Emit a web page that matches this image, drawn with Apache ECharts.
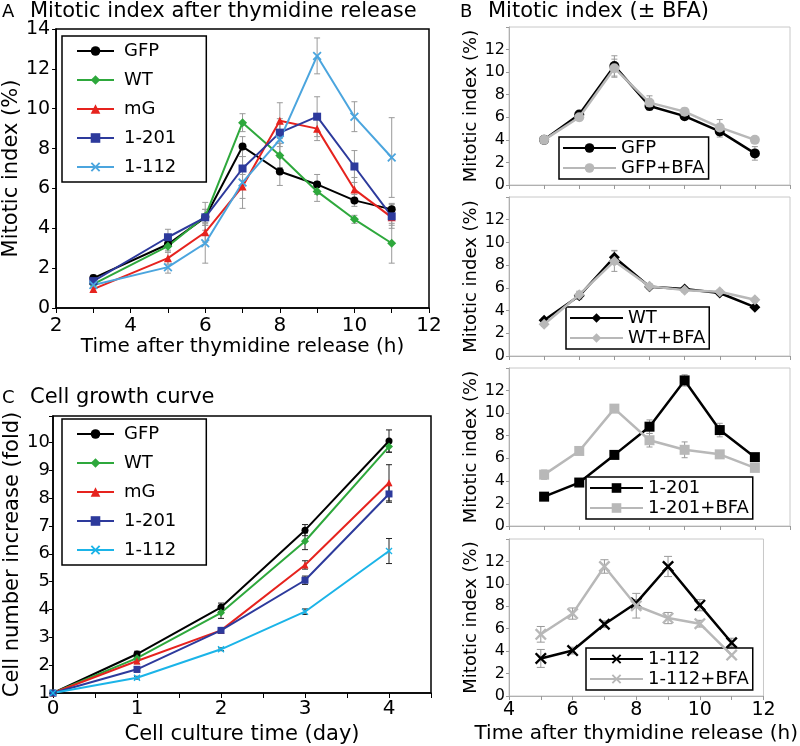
<!DOCTYPE html>
<html><head><meta charset="utf-8">
<script src="https://cdn.jsdelivr.net/npm/echarts@6/dist/echarts.min.js"></script>
<style>html,body{margin:0;padding:0;background:#fff}#c{width:800px;height:746px}</style>
</head><body><div id="c"></div>
<script>
// ---------- Panel A data ----------
const A_x = [3, 5, 6, 7, 8, 9, 10, 11];
const A_GFP = [1.5, 3.2, 4.55, 8.1, 6.85, 6.2, 5.4, 4.95];
const A_WT = [1.2, 3.1, 4.6, 9.3, 7.65, 5.85, 4.45, 3.25];
const A_mG = [0.95, 2.5, 3.8, 6.1, 9.4, 9.0, 5.95, 4.55];
const A_201 = [1.35, 3.55, 4.55, 7.0, 8.8, 9.6, 7.1, 4.6];
const A_112 = [1.15, 2.05, 3.25, 6.3, 8.45, 12.65, 9.6, 7.55];
const A_GFP_err = [0.15, 0.3, 0.4, 0.5, 0.7, 0.5, 0.3, 0.3];
const A_WT_err = [0.15, 0.3, 0.7, 0.45, 0.6, 0.5, 0.2, 1.0];
const A_mG_err = [0.15, 0.3, 0.5, 0.6, 0.9, 0.6, 0.6, 0.4];
const A_201_err = [0.2, 0.4, 0.4, 0.6, 0.7, 1.0, 0.8, 0.6];
const A_112_err = [0.15, 0.3, 1.0, 1.3, 0.8, 0.9, 0.75, 2.0];

// ---------- Panel C data ----------
const C_x = [0, 1, 2, 3, 4];
const C_GFP = [1, 2.4, 4.08, 6.85, 10.05];
const C_WT = [1, 2.25, 3.88, 6.45, 9.85];
const C_mG = [1, 2.15, 3.25, 5.6, 8.55];
const C_201 = [1, 1.85, 3.25, 5.05, 8.15];
const C_112 = [1, 1.55, 2.57, 3.92, 6.1];
const C_GFP_err = [0, 0.1, 0.15, 0.2, 0.4];
const C_WT_err = [0, 0.1, 0.2, 0.3, 0.2];
const C_mG_err = [0, 0.1, 0.1, 0.15, 0.65];
const C_201_err = [0, 0.1, 0.1, 0.15, 0.3];
const C_112_err = [0, 0.05, 0.05, 0.1, 0.45];

// ---------- Panel B data ----------
const B_x = [5, 6, 7, 8, 9, 10, 11];
const B_GFP = [4.0, 6.25, 10.55, 7.0, 6.1, 4.75, 2.8];
const B_GFP_BFA = [4.0, 6.0, 10.35, 7.3, 6.5, 5.1, 4.0];
const B_WT = [3.15, 5.3, 8.7, 6.1, 5.9, 5.55, 4.3];
const B_WT_BFA = [2.8, 5.4, 8.35, 6.15, 5.8, 5.65, 4.95];
const B_201 = [2.6, 3.85, 6.3, 8.8, 12.9, 8.5, 6.1];
const B_201_BFA = [4.55, 6.65, 10.4, 7.6, 6.75, 6.35, 5.15];
const B_112 = [3.35, 4.05, 6.4, 8.3, 11.55, 8.1, 4.75];
const B_112_BFA = [5.5, 7.35, 11.55, 8.05, 6.95, 6.45, 3.65];
const B_GFP_err = [0.2, 0.3, 0.9, 0.4, 0.3, 0.5, 0.6];
const B_GFP_BFA_err = [0.2, 0.3, 0.8, 0.6, 0.3, 0.7, 0.3];
const B_WT_err = [0.2, 0.3, 0.6, 0.2, 0.2, 0.2, 0.2];
const B_WT_BFA_err = [0.2, 0.3, 0.9, 0.2, 0.2, 0.2, 0.2];
const B_201_err = [0.2, 0.2, 0.3, 0.6, 0.5, 0.6, 0.3];
const B_201_BFA_err = [0.4, 0.3, 0.3, 0.6, 0.7, 0.3, 0.3];
const B_112_err = [0.8, 0.3, 0.3, 0.3, 0.9, 0.5, 0.4];
const B_112_BFA_err = [0.7, 0.5, 0.6, 1.1, 0.5, 0.3, 0.8];

// tick labels
const A_xTicks = [2, 4, 6, 8, 10, 12];
const A_yTicks = [0, 2, 4, 6, 8, 10, 12, 14];
const C_xTicks = [0, 1, 2, 3, 4];
const C_yTicks = [1, 2, 3, 4, 5, 6, 7, 8, 9, 10];
const B_xTicks = [4, 6, 8, 10, 12];
const B_yTicks = [0, 2, 4, 6, 8, 10, 12];

const FONT = 'DejaVu Sans';
const XSYM = 'path://M0,1.4 L1.4,0 L5,3.6 L8.6,0 L10,1.4 L6.4,5 L10,8.6 L8.6,10 L5,6.4 L1.4,10 L0,8.6 L3.6,5 Z';
const COL = {GFP: '#000000', WT: '#2ea83c', mG: '#e6231e', b201: '#2d3a9c', b112: '#4ba5de', c112: '#1bb4e8', gray: '#a9a9a9', grayS: '#b8b8b8'};

function zip(xs, ys) { return xs.map((x, i) => [x, ys[i]]); }
function errSeries(xs, ys, es, gi, color, cap) {
  return {
    type: 'custom', xAxisIndex: gi, yAxisIndex: gi, silent: true, z: 1,
    data: xs.map((x, i) => [x, ys[i] - es[i], ys[i] + es[i]]),
    encode: {x: 0, y: [1, 2]},
    renderItem: function (params, api) {
      const lo = api.coord([api.value(0), api.value(1)]);
      const hi = api.coord([api.value(0), api.value(2)]);
      const st = {stroke: color, lineWidth: 1};
      return {type: 'group', children: [
        {type: 'line', shape: {x1: lo[0], y1: lo[1], x2: hi[0], y2: hi[1]}, style: st},
        {type: 'line', shape: {x1: lo[0] - cap, y1: lo[1], x2: lo[0] + cap, y2: lo[1]}, style: st},
        {type: 'line', shape: {x1: hi[0] - cap, y1: hi[1], x2: hi[0] + cap, y2: hi[1]}, style: st}
      ]};
    }
  };
}
function lineSeries(name, xs, ys, gi, color, symbol, size, width, z) {
  return {
    name: name, type: 'line', xAxisIndex: gi, yAxisIndex: gi, data: zip(xs, ys),
    symbol: symbol, symbolSize: size, showSymbol: true, z: z || 3,
    itemStyle: {color: color, borderWidth: 0},
    lineStyle: {color: color, width: width},
    emphasis: {disabled: true}, animation: false
  };
}

const grids = [
  {left: 53, top: 29, width: 376, height: 279, show: true, borderColor: '#000', borderWidth: 1.5},
  {left: 53, top: 416, width: 378, height: 280, show: true, borderColor: '#000', borderWidth: 1.5},
  {left: 509, top: 27, width: 281, height: 158, show: true, borderColor: '#c8c8c8', borderWidth: 1},
  {left: 509, top: 197, width: 281, height: 159, show: true, borderColor: '#c8c8c8', borderWidth: 1},
  {left: 509, top: 368, width: 281, height: 158, show: true, borderColor: '#c8c8c8', borderWidth: 1},
  {left: 509, top: 539, width: 281, height: 157, show: true, borderColor: '#c8c8c8', borderWidth: 1}
];

const blackAxis = {lineStyle: {color: '#000', width: 1.5}};
const xAxes = [
  {gridIndex: 0, type: 'value', min: 2, max: 12, interval: 1, axisLine: blackAxis,
   axisTick: {lineStyle: {color: '#000'}, length: 5}, splitLine: {show: false},
   axisLabel: {fontFamily: FONT, fontSize: 20, color: '#000', margin: 8, formatter: v => A_xTicks.includes(v) ? String(v) : ''},
   name: 'Time after thymidine release (h)', nameLocation: 'middle', nameGap: 29,
   nameTextStyle: {fontFamily: FONT, fontSize: 20, color: '#000'}},
  {gridIndex: 1, type: 'value', min: 0, max: 4.5, interval: 0.5, axisLine: blackAxis,
   axisTick: {lineStyle: {color: '#000'}, length: 5}, splitLine: {show: false},
   axisLabel: {fontFamily: FONT, fontSize: 20, color: '#000', margin: 6, formatter: v => C_xTicks.includes(v) ? String(v) : ''},
   name: 'Cell culture time (day)', nameLocation: 'middle', nameGap: 31,
   nameTextStyle: {fontFamily: FONT, fontSize: 21, color: '#000'}}
];
const yAxes = [
  {gridIndex: 0, type: 'value', min: 0, max: 14, interval: 2, axisLine: blackAxis,
   axisTick: {lineStyle: {color: '#000'}, length: 4}, splitLine: {show: false},
   axisLabel: {fontFamily: FONT, fontSize: 19, color: '#000', margin: 6, formatter: v => A_yTicks.includes(v) ? String(v) : ''},
   name: 'Mitotic index (%)', nameLocation: 'middle', nameGap: 28,
   nameTextStyle: {fontFamily: FONT, fontSize: 21, color: '#000'}},
  {gridIndex: 1, type: 'value', min: 1, max: 10.95, interval: 1, axisLine: blackAxis,
   axisTick: {lineStyle: {color: '#000'}, length: 4}, splitLine: {show: false},
   axisLabel: {fontFamily: FONT, fontSize: 18, color: '#000', margin: 3, formatter: v => C_yTicks.includes(v) ? String(v) : ''},
   name: 'Cell number increase (fold)', nameLocation: 'middle', nameGap: 26,
   nameTextStyle: {fontFamily: FONT, fontSize: 21, color: '#000'}}
];
for (let g = 2; g <= 5; g++) {
  const last = g === 5;
  xAxes.push({gridIndex: g, type: 'value', min: 4, max: 12, interval: 1,
    axisLine: {lineStyle: {color: '#b0b0b0', width: 1}},
    axisTick: {lineStyle: {color: '#999'}, length: 4}, splitLine: {show: false},
    axisLabel: {show: last, fontFamily: FONT, fontSize: 19, color: '#000', margin: 5, formatter: v => B_xTicks.includes(v) ? String(v) : ''},
    name: last ? 'Time after thymidine release (h)' : '', nameLocation: 'middle', nameGap: 28,
    nameTextStyle: {fontFamily: FONT, fontSize: 20, color: '#000'}});
  yAxes.push({gridIndex: g, type: 'value', min: 0, max: 14, interval: 2,
    axisLine: {lineStyle: {color: '#b0b0b0', width: 1}},
    axisTick: {lineStyle: {color: '#999'}, length: 3}, splitLine: {show: false},
    axisLabel: {fontFamily: FONT, fontSize: 16, color: '#000', margin: 4, formatter: v => B_yTicks.includes(v) ? String(v) : ''},
    name: 'Mitotic index (%)', nameLocation: 'middle', nameGap: 22,
    nameTextStyle: {fontFamily: FONT, fontSize: 18, color: '#000'}});
}

const eA = '#9a9a9a', eC = '#222', eB = '#999';
const series = [
  // A
  errSeries(A_x, A_GFP, A_GFP_err, 0, eA, 3),
  errSeries(A_x, A_WT, A_WT_err, 0, eA, 3),
  errSeries(A_x, A_mG, A_mG_err, 0, eA, 3),
  errSeries(A_x, A_201, A_201_err, 0, eA, 3),
  errSeries(A_x, A_112, A_112_err, 0, eA, 3),
  lineSeries('GFP', A_x, A_GFP, 0, COL.GFP, 'circle', 8, 2),
  lineSeries('WT', A_x, A_WT, 0, COL.WT, 'diamond', 9, 2),
  lineSeries('mG', A_x, A_mG, 0, COL.mG, 'triangle', 8, 2),
  lineSeries('1-201', A_x, A_201, 0, COL.b201, 'rect', 8, 2),
  lineSeries('1-112', A_x, A_112, 0, COL.b112, XSYM, 9, 2),
  // C
  errSeries(C_x, C_GFP, C_GFP_err, 1, eC, 3),
  errSeries(C_x, C_WT, C_WT_err, 1, eC, 3),
  errSeries(C_x, C_mG, C_mG_err, 1, eC, 3),
  errSeries(C_x, C_201, C_201_err, 1, eC, 3),
  errSeries(C_x, C_112, C_112_err, 1, eC, 3),
  lineSeries('C:GFP', C_x, C_GFP, 1, COL.GFP, 'circle', 7, 2),
  lineSeries('C:WT', C_x, C_WT, 1, COL.WT, 'diamond', 8, 2),
  lineSeries('C:mG', C_x, C_mG, 1, COL.mG, 'triangle', 7, 2),
  lineSeries('C:1-201', C_x, C_201, 1, COL.b201, 'rect', 7, 2),
  lineSeries('C:1-112', C_x, C_112, 1, COL.c112, XSYM, 7, 2),
  // B1
  errSeries(B_x, B_GFP, B_GFP_err, 2, eB, 3),
  errSeries(B_x, B_GFP_BFA, B_GFP_BFA_err, 2, eB, 3),
  lineSeries('B:GFP', B_x, B_GFP, 2, COL.GFP, 'circle', 10, 2.5),
  lineSeries('B:GFP+BFA', B_x, B_GFP_BFA, 2, COL.grayS, 'circle', 10, 2.5, 4),
  // B2
  errSeries(B_x, B_WT, B_WT_err, 3, eB, 3),
  errSeries(B_x, B_WT_BFA, B_WT_BFA_err, 3, eB, 3),
  lineSeries('B:WT', B_x, B_WT, 3, COL.GFP, 'diamond', 11, 2.5),
  lineSeries('B:WT+BFA', B_x, B_WT_BFA, 3, COL.grayS, 'diamond', 11, 2.5, 4),
  // B3
  errSeries(B_x, B_201, B_201_err, 4, eB, 3),
  errSeries(B_x, B_201_BFA, B_201_BFA_err, 4, eB, 3),
  lineSeries('B:1-201', B_x, B_201, 4, COL.GFP, 'rect', 10, 2.5),
  lineSeries('B:1-201+BFA', B_x, B_201_BFA, 4, COL.grayS, 'rect', 10, 2.5, 4),
  // B4
  errSeries(B_x, B_112, B_112_err, 5, eB, 4),
  errSeries(B_x, B_112_BFA, B_112_BFA_err, 5, eB, 4),
  lineSeries('B:1-112', B_x, B_112, 5, COL.GFP, XSYM, 12, 2.5),
  lineSeries('B:1-112+BFA', B_x, B_112_BFA, 5, COL.grayS, XSYM, 12, 2.5, 4)
];

const strip = n => n.replace(/^[BC]:/, '');
const legA = {orient: 'vertical', left: 62, top: 36, itemWidth: 37, itemHeight: 12, itemGap: 11,
  padding: [6, 30, 6, 14], borderColor: '#000', borderWidth: 1.5, selectedMode: false,
  textStyle: {fontFamily: FONT, fontSize: 18, color: '#000', padding: [0, 0, 0, 5]}, formatter: strip};
function legB(names, left, top) {
  return {orient: 'vertical', left: left, top: top, data: names, itemWidth: 53, itemHeight: 12, itemGap: 2,
    padding: [2, 4, 2, 3], borderColor: '#000', borderWidth: 1.5, selectedMode: false, backgroundColor: '#fff',
    textStyle: {fontFamily: FONT, fontSize: 18, color: '#000'}, formatter: strip};
}
const legends = [
  Object.assign({}, legA, {data: ['GFP', 'WT', 'mG', '1-201', '1-112']}),
  Object.assign({}, legA, {top: 419, data: ['C:GFP', 'C:WT', 'C:mG', 'C:1-201', 'C:1-112']}),
  legB(['B:GFP', 'B:GFP+BFA'], 559, 137),
  legB(['B:WT', 'B:WT+BFA'], 566, 307),
  legB(['B:1-201', 'B:1-201+BFA'], 586, 477),
  legB(['B:1-112', 'B:1-112+BFA'], 586, 648)
];

function txt(x, y, s, size) {
  return {type: 'text', x: x, y: y, style: {text: s, fontFamily: FONT, fontSize: size, fill: '#000', textVerticalAlign: 'middle'}};
}
const graphic = [
  txt(2, 12, 'A', 18), txt(30, 12, 'Mitotic index after thymidine release', 21),
  txt(2, 398, 'C', 18), txt(30, 398, 'Cell growth curve', 21),
  txt(460, 12, 'B', 18), txt(488, 12, 'Mitotic index (± BFA)', 21)
];

const chart = echarts.init(document.getElementById('c'), null, {renderer: 'canvas'});
chart.setOption({
  animation: false, backgroundColor: '#fff',
  textStyle: {fontFamily: FONT},
  grid: grids, xAxis: xAxes, yAxis: yAxes, series: series, legend: legends, graphic: graphic
});
</script></body></html>
